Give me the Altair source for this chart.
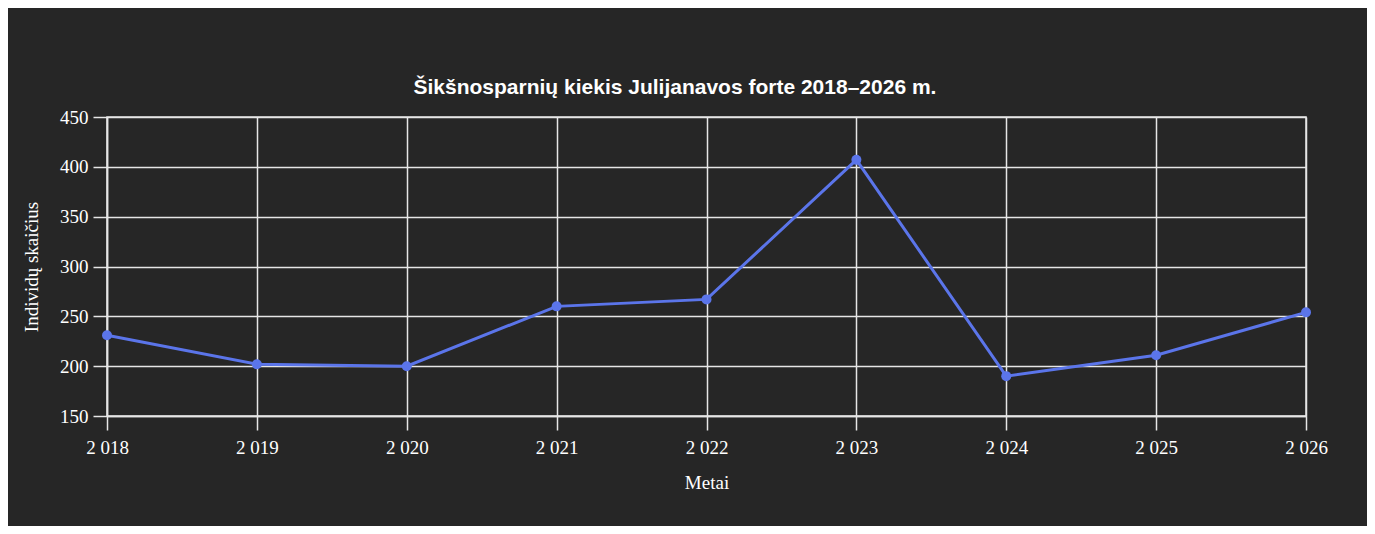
import altair as alt
import pandas as pd

years = [2018, 2019, 2020, 2021, 2022, 2023, 2024, 2025, 2026]
counts = [231, 202, 200, 260, 267, 407, 190, 211, 254]
y_ticks = [150, 200, 250, 300, 350, 400, 450]

df = pd.DataFrame({"Metai": years, "Individai": counts})

label_expr = "replace(format(datum.value, ','), ',', ' ')"

base = alt.Chart(df).encode(
    x=alt.X("Metai:Q",
            scale=alt.Scale(domain=[2018, 2026], nice=False, zero=False),
            axis=alt.Axis(title="Metai", values=years, labelExpr=label_expr,
                          labelFlush=False, tickSize=14, labelPadding=8, titlePadding=16)),
    y=alt.Y("Individai:Q",
            scale=alt.Scale(domain=[150, 450], nice=False, zero=False),
            axis=alt.Axis(title="Individų skaičius", values=y_ticks, labelFlush=False,
                          tickSize=14, labelPadding=5, titlePadding=18)),
)

line = base.mark_line(color="#5b75ea", strokeWidth=3)
pts = base.mark_circle(color="#5b75ea", size=100, opacity=1)

chart = (line + pts).properties(
    width=1199,
    height=299,
    title=alt.TitleParams("Šikšnosparnių kiekis Julijanavos forte 2018–2026 m.",
                          font="Liberation Sans", fontSize=21, fontWeight="bold",
                          color="#ffffff", offset=10, anchor="middle", frame="bounds"),
    background="#262626",
    padding={"left": 99, "top": 109, "right": 61, "bottom": 110},
    autosize=alt.AutoSizeParams(type="none"),
).configure_view(
    stroke="#e6e6e6", strokeWidth=1.5
).configure_axis(
    labelFont="Liberation Serif", titleFont="Liberation Serif",
    labelFontSize=19, titleFontSize=19, titleFontWeight="normal",
    labelColor="#ffffff", titleColor="#ffffff",
    gridColor="#e6e6e6", gridWidth=1.5, gridOpacity=1,
    domainColor="#e6e6e6", domainWidth=1.5,
    tickColor="#e6e6e6", tickWidth=1.5,
)

chart.save("out.html", embed_options={"renderer": "svg", "actions": False})
